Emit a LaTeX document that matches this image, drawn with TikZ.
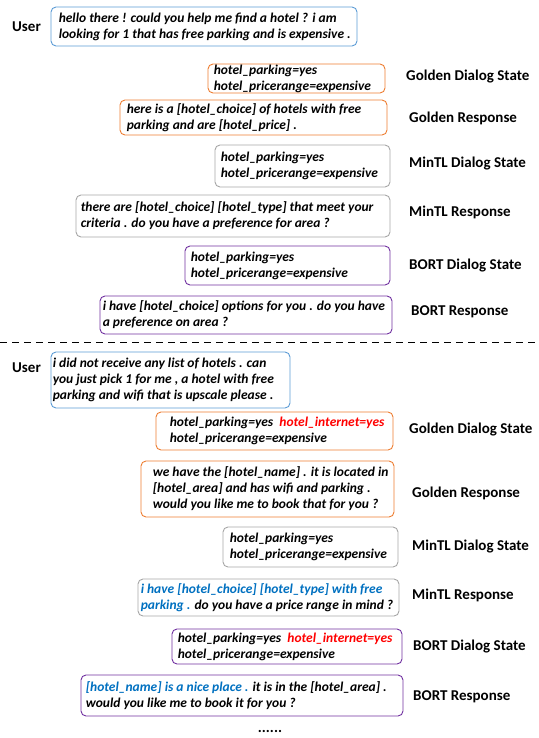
\documentclass[tikz,border=0pt]{standalone}
\usepackage{fontspec}
\setmainfont{Carlito}
\usetikzlibrary{fit}
\definecolor{cblue}{HTML}{5B9BD5}
\definecolor{corange}{HTML}{ED7D31}
\definecolor{cgray}{HTML}{A6A6A6}
\definecolor{cpurple}{HTML}{7030A0}
\definecolor{hlblue}{HTML}{0070C0}
\definecolor{hlred}{HTML}{FF0000}

% name, colour, corner, corner, left padding, text
\newcommand\dlgbox[6]{%
  \node[card=#2, fit={#3 #4}] (#1) {};
  \node[body] (#1t) at ([xshift=#5pt]#1.west) {#6};
}

\begin{document}
\begin{tikzpicture}[x=1pt, y=-1pt,
  card/.style={draw=#1, line width=0.9pt, rounded corners=5pt, inner sep=0pt},
  body/.style={anchor=west, align=left, inner sep=0pt,
    font=\fontsize{13.5}{16}\selectfont\bfseries\itshape},
  tag/.style={anchor=west, inner sep=0pt,
    font=\fontsize{15}{18}\selectfont\bfseries},
  sep/.style={line width=0.9pt, dash pattern=on 7pt off 5pt}]

\useasboundingbox (0,0) rectangle (538,738);

% ---- first turn ----
\node[tag] (user1) at (12,27) {User};
\dlgbox{u1}{cblue}{(51,7)}{(357,46)}{8}{hello there ! could you help me find a hotel ? i am\\looking for 1 that has free parking and is expensive .}
\dlgbox{g1s}{corange}{(208,64)}{(385,93)}{6}{hotel\_parking=yes\\hotel\_pricerange=expensive}
\dlgbox{g1r}{corange}{(120,100)}{(387,135)}{7}{here is a [hotel\_choice] of hotels with free\\parking and are [hotel\_price] .}
\dlgbox{m1s}{cgray}{(215,145)}{(390,187)}{6}{hotel\_parking=yes\\hotel\_pricerange=expensive}
\dlgbox{m1r}{cgray}{(76,195)}{(390,237)}{5}{there are [hotel\_choice] [hotel\_type] that meet your\\criteria . do you have a preference for area ?}
\dlgbox{b1s}{cpurple}{(185,246)}{(390,285)}{6}{hotel\_parking=yes\\hotel\_pricerange=expensive}
\dlgbox{b1r}{cpurple}{(100,296)}{(392,334)}{3}{i have [hotel\_choice] options for you . do you have\\a preference on area ?}

\node[tag] (lg1s) at (406,77) {Golden Dialog State};
\node[tag] (lg1r) at (409,118) {Golden Response};
\node[tag] (lm1s) at (409,164) {MinTL Dialog State};
\node[tag] (lm1r) at (409,212) {MinTL Response};
\node[tag] (lb1s) at (409,266) {BORT Dialog State};
\node[tag] (lb1r) at (411,312) {BORT Response};

% ---- separator ----
\coordinate (sepL) at (0,342);
\coordinate (sepR) at (538,342);
\draw[sep] (sepL) -- (sepR);

% ---- second turn ----
\node[tag] (user2) at (12,368) {User};
\dlgbox{u2}{cblue}{(51,352)}{(290,408)}{2}{i did not receive any list of hotels . can\\you just pick 1 for me , a hotel with free\\parking and wifi that is upscale please .}
\dlgbox{g2s}{corange}{(156,412)}{(393,450)}{14}{hotel\_parking=yes\ \ \textcolor{hlred}{hotel\_internet=yes}\\hotel\_pricerange=expensive}
\dlgbox{g2r}{corange}{(141,461)}{(394,517)}{12}{we have the [hotel\_name] . it is located in\\{}[hotel\_area] and has wifi and parking .\\would you like me to book that for you ?}
\dlgbox{m2s}{cgray}{(223,527)}{(398,567)}{7}{hotel\_parking=yes\\hotel\_pricerange=expensive}
\dlgbox{m2r}{cgray}{(138,579)}{(399,616)}{3}{\textcolor{hlblue}{i have [hotel\_choice] [hotel\_type] with free}\\\textcolor{hlblue}{parking .} do you have a price range in mind ?}
\dlgbox{b2s}{cpurple}{(172,629)}{(402,664)}{6}{hotel\_parking=yes\ \ \textcolor{hlred}{hotel\_internet=yes}\\hotel\_pricerange=expensive}
\dlgbox{b2r}{cpurple}{(81,675)}{(403,716)}{5}{\textcolor{hlblue}{[hotel\_name] is a nice place .} it is in the [hotel\_area] .\\would you like me to book it for you ?}

\node[tag] (lg2s) at (409,430) {Golden Dialog State};
\node[tag] (lg2r) at (412,493) {Golden Response};
\node[tag] (lm2s) at (412,547) {MinTL Dialog State};
\node[tag] (lm2r) at (412,595) {MinTL Response};
\node[tag] (lb2s) at (413,647) {BORT Dialog State};
\node[tag] (lb2r) at (413,697) {BORT Response};

\node[tag, anchor=center] (more) at (270,731) {......};
\end{tikzpicture}
\end{document}
